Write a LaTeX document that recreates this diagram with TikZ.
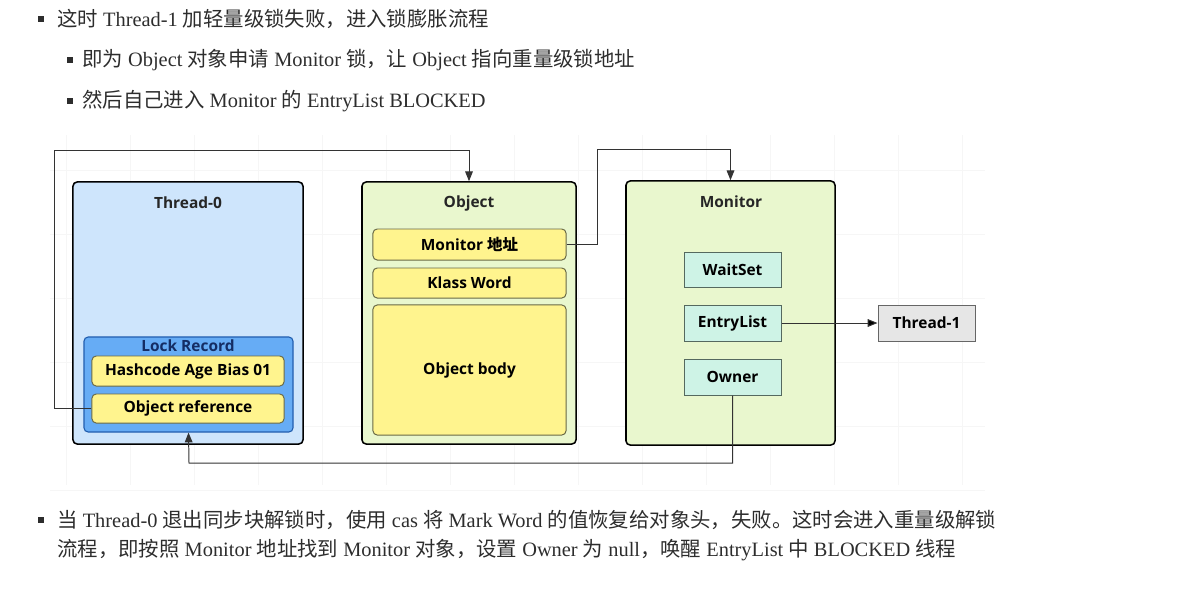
\documentclass[tikz,border=0pt]{standalone}
\usepackage{fontspec}
\setmainfont{Liberation Serif}
\newfontfamily\cjk{Noto Sans CJK SC}
\newfontfamily\diag{Open Sans}
\usetikzlibrary{arrows.meta}

\definecolor{txtgray}{RGB}{45,45,45}
\definecolor{threadblue}{RGB}{206,229,252}
\definecolor{lockblue}{RGB}{102,172,245}
\definecolor{lockline}{RGB}{35,95,175}
\definecolor{locktxt}{RGB}{20,45,100}
\definecolor{slotyellow}{RGB}{255,244,142}
\definecolor{slotline}{RGB}{105,105,70}
\definecolor{objgreen}{RGB}{233,247,206}
\definecolor{cellteal}{RGB}{206,243,230}
\definecolor{cellline}{RGB}{85,105,95}
\definecolor{t1gray}{RGB}{230,230,230}

\newcommand{\zh}[1]{{\cjk #1}}

\tikzset{
  bullettxt/.style={anchor=west,inner sep=0pt,text=txtgray,font=\rmfamily\mdseries\fontsize{14.5}{16}\selectfont},
  bulletsq/.style={rectangle,fill=txtgray,minimum size=0.14cm,inner sep=0pt},
  outerbox/.style={rectangle,draw=black,line width=1.1pt,rounded corners=3pt,inner sep=0pt},
  slot/.style={rectangle,draw=slotline,fill=slotyellow,line width=0.7pt,rounded corners=3pt,inner sep=0pt,minimum width=4.8cm},
  cell/.style={rectangle,draw=cellline,fill=cellteal,line width=0.7pt,inner sep=0pt,minimum width=2.425cm,minimum height=0.9cm},
  title/.style={inner sep=0pt,text=black!85},
  gridline/.style={gray!7,line width=0.6pt},
  link/.style={-{Triangle[length=7pt,width=5.5pt]},line width=0.7pt,draw=black!80}
}

\begin{document}
\begin{tikzpicture}[x=0.025cm,y=-0.025cm,every node/.style={font=\diag\bfseries\fontsize{11}{13}\selectfont}]
\useasboundingbox (0,0) rectangle (1187,593);

% faint grid behind the diagram
\foreach \gx in {66,130,...,962} \draw[gridline] (\gx,135) -- (\gx,485);
\foreach \gy in {170,234,...,490} \draw[gridline] (50,\gy) -- (985,\gy);

% bullet text
\node [bulletsq] (b1) at (41,19) {};
\node [bullettxt] (l1) at (57,19) {\zh{这时} Thread-1 \zh{加轻量级锁失败，进入锁膨胀流程}};
\node [bulletsq] (b2) at (70,60) {};
\node [bullettxt] (l2) at (82,60) {\zh{即为} Object \zh{对象申请} Monitor \zh{锁，让} Object \zh{指向重量级锁地址}};
\node [bulletsq] (b3) at (70,101) {};
\node [bullettxt] (l3) at (82,101) {\zh{然后自己进入} Monitor \zh{的} EntryList BLOCKED};
\node [bulletsq] (b4) at (41,520) {};
\node [bullettxt] (l4) at (57,520) {\zh{当} Thread-0 \zh{退出同步块解锁时，使用} cas \zh{将} Mark Word \zh{的值恢复给对象头，失败。这时会进入重量级解锁}};
\node [bullettxt] (l5) at (57,550) {\zh{流程，即按照} Monitor \zh{地址找到} Monitor \zh{对象，设置} Owner \zh{为} null\zh{，唤醒} EntryList \zh{中} BLOCKED \zh{线程}};

% Thread-0
\node [outerbox,fill=threadblue,minimum width=5.75cm,minimum height=6.55cm] (t0) at (188,313) {};
\node [title] (t0title) at (188,203) {Thread-0};
\node [rectangle,draw=lockline,fill=lockblue,line width=0.8pt,rounded corners=3pt,minimum width=5.225cm,minimum height=2.375cm,inner sep=0pt] (lockrec) at (188.5,384.5) {};
\node [title,text=locktxt] (locktitle) at (188,346) {Lock Record};
\node [slot,minimum height=0.75cm] (hash) at (188,371) {Hashcode Age Bias 01};
\node [slot,minimum height=0.725cm] (objref) at (188,408.5) {Object reference};

% Object
\node [outerbox,fill=objgreen,minimum width=5.35cm,minimum height=6.55cm] (obj) at (469,313) {};
\node [title] (objtitle) at (469,203) {Object};
\node [slot,minimum width=4.825cm,minimum height=0.775cm] (maddr) at (469.5,244.5) {Monitor {\cjk 地址}};
\node [slot,minimum width=4.825cm,minimum height=0.75cm] (klass) at (469.5,283) {Klass Word};
\node [slot,minimum width=4.825cm,minimum height=3.25cm] (body) at (469.5,370) {Object body};

% Monitor
\node [outerbox,fill=objgreen,minimum width=5.225cm,minimum height=6.6cm] (mon) at (730.5,313) {};
\node [title] (montitle) at (731,202) {Monitor};
\node [cell,minimum height=0.875cm] (waitset) at (732.5,269.5) {WaitSet};
\node [cell] (entry) at (732.5,323) {EntryList};
\node [cell] (owner) at (732.5,377) {Owner};
\node [rectangle,draw=black!60,fill=t1gray,line width=0.7pt,minimum width=2.425cm,minimum height=0.9cm,inner sep=0pt] (t1) at (926.5,323) {Thread-1};

% connectors
\coordinate (c1) at (54,150);
\coordinate (c2) at (597,149);
\coordinate (c3) at (189,463);
\path [link] (objref.west) -| (c1) -| (obj.north);
\path [link] (maddr.east) -| (c2) -| (mon.north);
\path [link] (entry) edge (t1);
\path [link] (owner.south) |- (c3) -- (lockrec.south);

\end{tikzpicture}
\end{document}
